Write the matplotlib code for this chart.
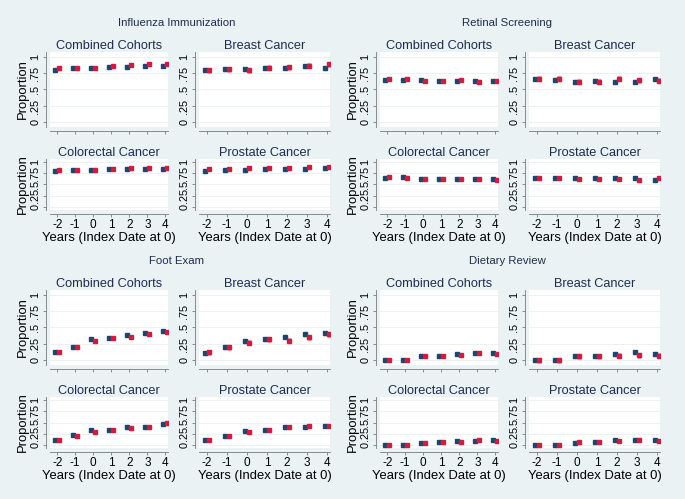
import numpy as np
import matplotlib
matplotlib.use("Agg")
import matplotlib.pyplot as plt

plt.rcParams["font.family"] = ["Liberation Sans", "DejaVu Sans"]

W, H = 685, 499

years = [-2, -1, 0, 1, 2, 3, 4]
cohorts = ["Combined Cohorts", "Breast Cancer", "Colorectal Cancer", "Prostate Cancer"]
measures = ["Influenza Immunization", "Retinal Screening", "Foot Exam", "Dietary Review"]

# blue = first group, red = second group (one list per cohort)
flu_blue = [[.80, .82, .83, .84, .84, .85, .85],
            [.80, .81, .81, .83, .83, .85, .82],
            [.80, .82, .83, .84, .84, .85, .85],
            [.81, .82, .83, .84, .84, .85, .86]]
flu_red = [[.82, .82, .83, .86, .87, .88, .88],
           [.79, .81, .79, .83, .84, .86, .88],
           [.82, .82, .82, .85, .86, .86, .86],
           [.84, .84, .86, .87, .87, .88, .89]]

ret_blue = [[.65, .65, .64, .63, .63, .63, .63],
            [.66, .65, .62, .63, .61, .62, .66],
            [.64, .66, .63, .62, .63, .63, .62],
            [.64, .64, .65, .64, .64, .64, .61]]
ret_red = [[.66, .66, .63, .63, .64, .62, .63],
           [.66, .66, .62, .62, .66, .64, .63],
           [.67, .65, .63, .63, .62, .62, .61],
           [.64, .65, .62, .63, .63, .59, .65]]

foot_blue = [[.12, .21, .32, .34, .39, .41, .44],
             [.11, .20, .29, .32, .36, .40, .41],
             [.10, .21, .33, .34, .39, .40, .46],
             [.11, .20, .30, .34, .39, .40, .42]]
foot_red = [[.12, .21, .29, .34, .36, .40, .43],
            [.12, .20, .27, .32, .30, .35, .40],
            [.10, .20, .28, .33, .38, .39, .48],
            [.11, .20, .29, .33, .39, .42, .42]]

diet_blue = [[0, 0, .06, .06, .10, .11, .11],
             [0, 0, .06, .06, .09, .12, .10],
             [0, 0, .05, .06, .08, .09, .10],
             [0, 0, .05, .06, .10, .10, .11]]
diet_red = [[0, 0, .06, .07, .08, .11, .09],
            [0, 0, .06, .06, .07, .08, .07],
            [0, 0, .05, .06, .07, .10, .08],
            [0, 0, .06, .06, .08, .12, .09]]

# CI half-widths per cohort (blue, red)
err_blue = [.012, .022, .018, .016]
err_red = [.018, .038, .030, .026]

data = {
    "Influenza Immunization": (flu_blue, flu_red),
    "Retinal Screening": (ret_blue, ret_red),
    "Foot Exam": (foot_blue, foot_red),
    "Dietary Review": (diet_blue, diet_red),
}

BG = "#eaf2f3"
BLUE = "#1a476f"
RED = "#d7193f"
BLUE_L = "#9fb5cc"
RED_L = "#f2a3ae"
TXT = "#1e2d4f"

fig = plt.figure(figsize=(W / 100, H / 100), dpi=100, facecolor=BG)


def px_axes(left, top, right, bottom):
    return fig.add_axes([left / W, 1 - bottom / H, (right - left) / W, (bottom - top) / H])


# panel offsets (pixels) and subplot boxes inside a panel
panel_off = [(0, 0), (330, 0), (0, 238), (330, 238)]
boxes = [(50, 52, 168, 127), (199, 52, 330, 127), (50, 159, 168, 210), (199, 159, 330, 210)]

for m_i, measure in enumerate(measures):
    ox, oy = panel_off[m_i]
    blue_vals, red_vals = data[measure]
    fig.text((ox + 177) / W, 1 - (oy + 23) / H, measure, ha="center", va="center",
             fontsize=8.2, color=TXT)
    for c_i, cohort in enumerate(cohorts):
        l, t, r, b = boxes[c_i]
        ax = px_axes(ox + l, oy + t, ox + r, oy + b)
        ax.set_facecolor("white")
        x = np.array(years, dtype=float)
        ax.errorbar(x - 0.1, blue_vals[c_i], yerr=err_blue[c_i], fmt="s", ms=2.3,
                    color=BLUE, ecolor=BLUE_L, elinewidth=0.9, capsize=1.6, capthick=0.9)
        ax.errorbar(x + 0.1, red_vals[c_i], yerr=err_red[c_i], fmt="s", ms=2.3,
                    color=RED, ecolor=RED_L, elinewidth=0.9, capsize=1.6, capthick=0.9)
        ax.set_xlim(-2.4, 4.15)
        ax.set_ylim(-0.07, 1.07)
        ax.set_yticks([0, .25, .5, .75, 1])
        ax.set_yticklabels(["0", ".25", ".5", ".75", "1"])
        ax.set_xticks(years)
        ax.grid(axis="y", color="#eef1f3", lw=0.7)
        ax.set_axisbelow(True)
        for s in ["top", "right"]:
            ax.spines[s].set_visible(False)
        for s in ["left", "bottom"]:
            ax.spines[s].set_color("#7a7a7a")
            ax.spines[s].set_linewidth(0.6)
            ax.spines[s].set_position(("outward", 3))
        ax.tick_params(length=2.5, width=0.6, color="#7a7a7a", labelsize=7.8, pad=1.5)
        ax.tick_params(axis="x", labelsize=8.5, pad=1)
        ax.tick_params(axis="y", labelrotation=90)
        for lab in ax.get_yticklabels():
            lab.set_va("center")
        ax.set_title(cohort, fontsize=9.2, color=TXT, pad=2)
        if c_i >= 2:
            ax.set_xticklabels([str(y) for y in years])
            ax.set_xlabel("Years (Index Date at 0)", fontsize=9.4, labelpad=0.5)
        else:
            ax.set_xticklabels([])
        if c_i % 2 == 0:
            ax.set_ylabel("Proportion", fontsize=9.4, labelpad=1)

fig.savefig("out.png", dpi=100, facecolor=BG)
